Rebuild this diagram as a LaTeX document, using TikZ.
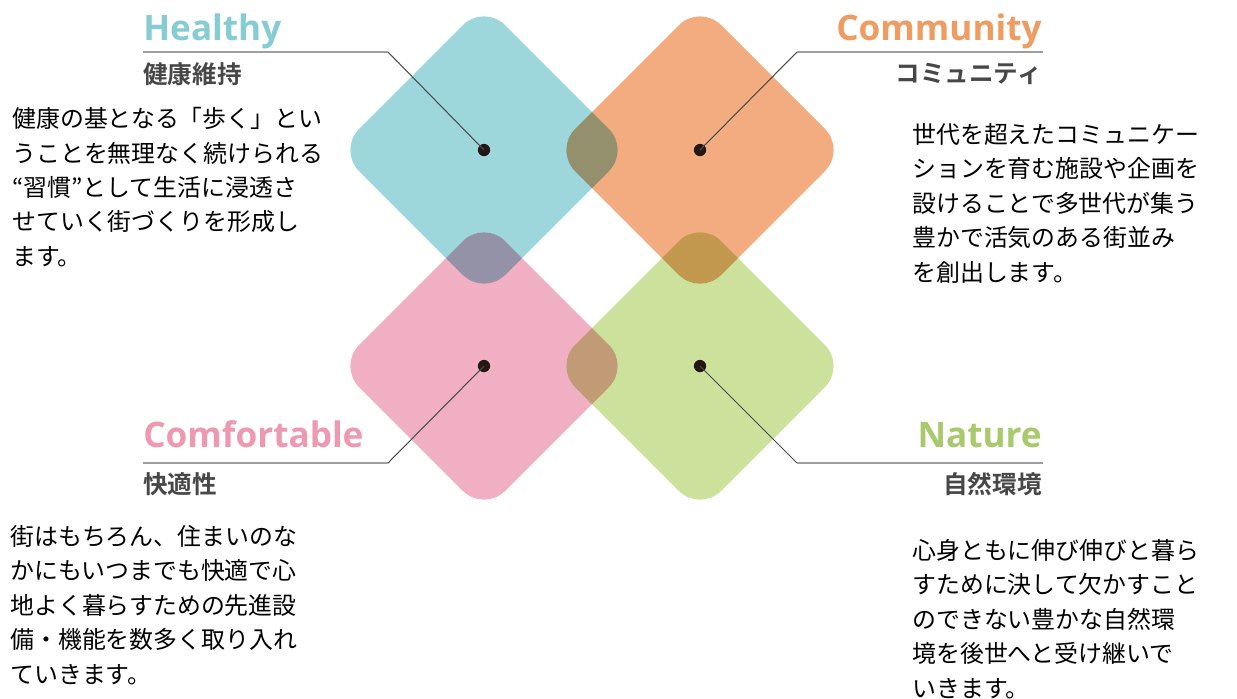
\documentclass[tikz,border=0pt]{standalone}
\usepackage{fontspec}
\setmainfont{Open Sans}
\newfontfamily\jp{Noto Sans CJK JP}
\newfontfamily\jpbold{Noto Sans CJK JP Bold}
\newfontfamily\titlefont{Open Sans}[UprightFont={* Bold}]
\definecolor{healthy}{HTML}{9DD6DB}
\definecolor{community}{HTML}{F2AC80}
\definecolor{comfort}{HTML}{F0AFC2}
\definecolor{nature}{HTML}{CCE29C}
\definecolor{healthyT}{HTML}{86CCD3}
\definecolor{communityT}{HTML}{EF9C62}
\definecolor{comfortT}{HTML}{EE98B1}
\definecolor{natureT}{HTML}{A8C96C}
\definecolor{dotcol}{HTML}{231815}
\tikzset{
  dotnode/.style={circle,fill=dotcol,inner sep=0pt,minimum size=7pt},
  leader/.style={draw=black!70,line width=0.6pt},
  rule/.style={draw=black!38,line width=1.1pt},
  title/.style={font=\titlefont\fontsize{20}{24}\selectfont,inner sep=0pt},
  subtitle/.style={font=\jpbold\fontsize{14}{16}\selectfont,text=black!72,inner sep=0pt},
  body/.style={font=\jp\fontsize{13.6}{19.6}\selectfont,align=left,inner sep=0pt,anchor=north west}
}
\newcommand{\petal}[2]{\fill[#1,rounded corners=17pt] (#2) ++(0,-146) -- ++(146,146) -- ++(-146,146) -- ++(-146,-146) -- cycle;}
\begin{document}
\begin{tikzpicture}[x=0.02cm,y=-0.02cm]
\useasboundingbox (0,0) rectangle (1237,698);

% four petals
\coordinate (hc) at (484,150);
\coordinate (cc) at (700,150);
\coordinate (fc) at (484,366);
\coordinate (nc) at (700,366);
\begin{scope}[blend group=multiply]
\petal{healthy}{hc}
\petal{community}{cc}
\petal{comfort}{fc}
\petal{nature}{nc}
\end{scope}

\node[dotnode] (hdot) at (hc) {};
\node[dotnode] (cdot) at (cc) {};
\node[dotnode] (fdot) at (fc) {};
\node[dotnode] (ndot) at (nc) {};

% leaders
\coordinate (hbend) at (388,52);  \coordinate (hend) at (143,52);
\coordinate (cbend) at (797,52);  \coordinate (cend) at (1043,52);
\coordinate (fbend) at (388,463); \coordinate (fend) at (143,463);
\coordinate (nbend) at (797,463); \coordinate (nend) at (1043,463);
\draw[leader] (hdot.center) -- (hbend);
\draw[leader] (cdot.center) -- (cbend);
\draw[leader] (fdot.center) -- (fbend);
\draw[leader] (ndot.center) -- (nbend);
\draw[rule] (hend) -- (hbend);
\draw[rule] (cbend) -- (cend);
\draw[rule] (fend) -- (fbend);
\draw[rule] (nbend) -- (nend);

% titles
\node[title,text=healthyT,anchor=base west] (htitle) at (143,40) {Healthy};
\node[title,text=communityT,anchor=base east] (ctitle) at (1042,40) {Community};
\node[title,text=comfortT,anchor=base west] (ftitle) at (143,447) {Comfortable};
\node[title,text=natureT,anchor=base east] (ntitle) at (1042,447) {Nature};

\node[subtitle,anchor=west] (hsub) at (143,74) {健康維持};
\node[subtitle,anchor=east] (csub) at (1042,74) {コミュニティ};
\node[subtitle,anchor=west] (fsub) at (143,484) {快適性};
\node[subtitle,anchor=east] (nsub) at (1042,484) {自然環境};

% texts
\node[body] (htext) at (12,107) {健康の基となる「歩く」とい\\うことを無理なく続けられる\\“習慣”として生活に浸透さ\\せていく街づくりを形成し\\ます。};
\node[body] (ctext) at (912,123) {世代を超えたコミュニケー\\ションを育む施設や企画を\\設けることで多世代が集う\\豊かで活気のある街並み\\を創出します。};
\node[body] (ftext) at (10,525) {街はもちろん、住まいのな\\かにもいつまでも快適で心\\地よく暮らすための先進設\\備・機能を数多く取り入れ\\ていきます。};
\node[body] (ntext) at (912,539) {心身ともに伸び伸びと暮ら\\すために決して欠かすこと\\のできない豊かな自然環\\境を後世へと受け継いで\\いきます。};
\end{tikzpicture}
\end{document}
